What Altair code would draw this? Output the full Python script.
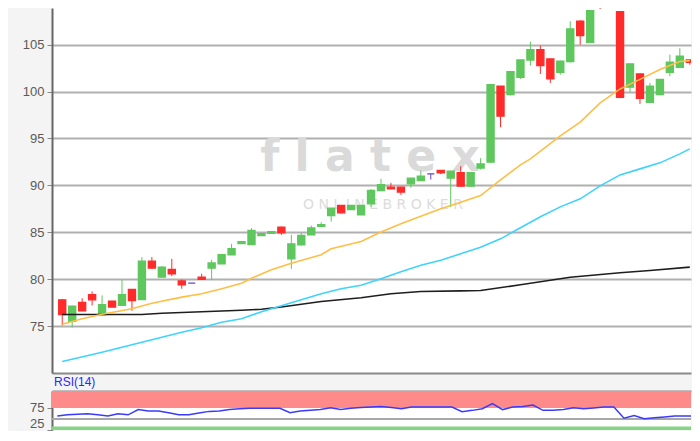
import altair as alt
import pandas as pd

# ---------------- data ----------------
idx = list(range(64))
opens = [77.8, 75.5, 77.52, 78.34, 76.21, 77.65, 77.22, 78.9, 77.84, 81.93,
         80.22, 81.04, 79.8, 79.58, 80.22, 81.18, 81.64, 82.6, 83.8, 83.7,
         84.65, 84.9, 85.55, 82.17, 83.67, 84.73, 85.65, 86.79, 87.85, 87.43,
         86.87, 88.03, 89.45, 89.81, 89.81, 90.16, 90.52, 91.23, 91.58, 90.77,
         91.34, 89.92, 91.84, 92.48, 100.57, 99.68, 101.53, 103.37, 104.47, 103.48,
         102.06, 103.19, 107.5, 105.26, 109.58, 110.4, 108.52, 100.47, 101.88, 98.87,
         99.68, 102.06, 102.6, 103.37]
closes = [76.24, 77.11, 76.63, 77.8, 77.27, 77.03, 78.34, 77.73, 81.93, 81.2,
          81.27, 80.58, 79.4, 79.58, 80.0, 81.72, 82.6, 83.24, 84.0, 85.19,
          84.85, 85.05, 84.94, 83.77, 84.66, 85.45, 85.8, 87.58, 87.07, 87.85,
          87.85, 89.45, 90.06, 89.63, 89.28, 90.77, 90.98, 91.23, 91.34, 91.52,
          89.92, 91.34, 92.29, 100.74, 97.38, 102.13, 103.37, 104.47, 102.77, 101.35,
          103.24, 106.68, 105.96, 108.63, 109.09, 109.34, 99.4, 102.95, 99.29, 100.57,
          101.28, 103.13, 103.77, 103.13]
highs = [77.9, 77.2, 77.97, 78.69, 78.27, 77.7, 79.94, 78.95, 82.36, 82.36,
         81.4, 82.17, 79.97, 79.58, 80.58, 82.07, 82.7, 83.77, 84.0, 85.45,
         84.85, 85.05, 85.6, 84.73, 84.94, 85.72, 86.08, 87.6, 87.9, 87.85,
         87.85, 89.6, 90.7, 90.27, 89.85, 90.8, 91.58, 91.23, 91.6, 91.55,
         92.05, 91.4, 92.9, 100.8, 100.6, 102.2, 103.4, 105.32, 104.9, 103.5,
         103.3, 107.5, 107.6, 108.7, 109.6, 110.8, 108.6, 103.0, 101.9, 100.92,
         101.3, 103.94, 104.62, 103.4]
lows = [75.07, 74.85, 76.6, 77.2, 76.2, 77.0, 77.2, 76.63, 77.8, 81.1,
        80.2, 80.33, 78.98, 79.58, 80.0, 79.9, 81.6, 82.6, 83.8, 83.7,
        84.65, 84.9, 84.73, 81.11, 83.6, 84.7, 85.65, 86.15, 87.0, 87.43,
        86.87, 87.7, 89.4, 89.6, 89.0, 89.75, 90.5, 90.62, 91.2, 87.68,
        89.9, 89.9, 91.69, 92.4, 96.2, 99.6, 101.35, 102.77, 101.88, 100.92,
        101.8, 103.1, 105.0, 105.2, 108.81, 109.3, 99.3, 99.93, 98.69, 98.8,
        99.6, 101.64, 102.5, 102.87]

orange_idx = [0, 2, 4, 7, 9, 12, 14, 16, 18, 19, 21, 23, 26, 27, 30, 32, 34, 36,
              38, 40, 42, 44, 46, 47, 50, 52, 54, 56, 58, 60, 62, 63]
orange_val = [75.2, 75.78, 76.26, 76.85, 77.43, 78.09, 78.45, 78.98, 79.56, 80.1,
              81.01, 81.7, 82.6, 83.24, 84.02, 85.02, 85.9, 86.72, 87.5, 88.21,
              88.92, 90.59, 92.19, 92.83, 95.28, 96.74, 98.79, 100.28, 101.3,
              102.36, 103.21, 103.3]
cyan_idx = [0, 4, 8, 12, 14, 16, 18, 20, 23, 26, 28, 30, 32, 34, 36, 38, 40, 42,
            44, 46, 48, 50, 52, 54, 56, 58, 60, 62, 63]
cyan_val = [71.23, 72.21, 73.28, 74.34, 74.82, 75.41, 75.78, 76.53, 77.49, 78.45,
            78.98, 79.35, 80.04, 80.79, 81.48, 82.02, 82.71, 83.4, 84.3, 85.48,
            86.65, 87.71, 88.57, 89.95, 91.12, 91.76, 92.4, 93.36, 93.89]
black_idx = [0, 8, 10, 14, 18, 20, 22, 26, 30, 33, 36, 40, 42, 46, 51, 56, 59, 63]
black_val = [76.24, 76.24, 76.37, 76.53, 76.69, 76.8, 77.03, 77.62, 78.02, 78.45,
             78.69, 78.76, 78.8, 79.4, 80.2, 80.68, 80.93, 81.29]

rsi = [56.6, 59.5, 60.7, 62.0, 59.5, 56.6, 62.0, 59.5, 71.4, 68.4,
       68.4, 64.3, 59.5, 59.5, 63.4, 67.3, 68.4, 71.4, 73.2, 74.5,
       74.5, 74.5, 74.5, 64.3, 67.9, 69.6, 71.4, 75.5, 71.4, 74.5,
       75.9, 77.3, 78.6, 75.9, 73.2, 77.3, 77.3, 77.3, 77.3, 77.3,
       66.6, 69.6, 73.2, 85.2, 71.4, 77.3, 78.6, 81.6, 69.6, 69.6,
       71.4, 75.5, 73.2, 75.0, 77.3, 77.3, 51.8, 57.7, 50.5, 52.7,
       54.5, 56.6, 56.6, 56.6]

price_ticks = [75, 80, 85, 90, 95, 100, 105]
rsi_ticks = [25, 75]
rsi_mid = [50]
rsi_over = [75, 120]
rsi_under = [0, 33]

wm_main = "f l a t e x"
wm_sub = "O N L I N E   B R O K E R"

# ---------------- styling ----------------
GREEN = "#5ec75e"
RED = "#ff2b2b"
PURPLE = "#6a40d0"
FONT = "Liberation Sans"
W = 639
BORDER = "#8a8a8a"

df = pd.DataFrame({"i": idx, "open": opens, "close": closes, "high": highs, "low": lows})
df["dir"] = ["up" if c > o else ("down" if c < o else "flat") for o, c in zip(opens, closes)]

xscale = alt.Scale(domain=[-0.524, 62.62], nice=False, zero=False)
ax_bottom = alt.Axis(orient="bottom", labels=False, ticks=False, grid=False, title=None,
                     domainColor=BORDER, domainWidth=2)
ax_top = alt.Axis(orient="top", labels=False, ticks=False, grid=False, title=None,
                  domainColor=BORDER, domainWidth=2)
X = alt.X("i:Q", scale=xscale, axis=ax_bottom)
XR = alt.X("i:Q", scale=xscale, axis=ax_top)
yscale = alt.Scale(domain=[70, 108.91], nice=False, zero=False)
yaxis = alt.Axis(values=price_ticks, title=None, grid=True, gridColor="#b0b0b0",
                 gridWidth=2, domainColor="#666666", domainWidth=2, tickColor="#888888",
                 tickSize=5, labelFont=FONT, labelFontSize=13, labelColor="#5a5a5a",
                 labelPadding=3, minExtent=44, maxExtent=44)

cscale = alt.Scale(domain=["up", "down", "flat"], range=[GREEN, RED, PURPLE])

base = alt.Chart(df)
wicks = base.mark_rule(strokeWidth=1, clip=True).encode(
    x=X, y=alt.Y("low:Q", scale=yscale, axis=yaxis), y2="high:Q",
    color=alt.Color("dir:N", scale=cscale, legend=None))
bodies = base.mark_bar(size=7, clip=True, strokeWidth=1.4).encode(
    x=X, y=alt.Y("open:Q", scale=yscale, axis=yaxis), y2="close:Q",
    color=alt.Color("dir:N", scale=cscale, legend=None),
    stroke=alt.Stroke("dir:N", scale=cscale, legend=None))

wm = pd.DataFrame({"i": [30.9, 32.2], "v": [91.55, 87.5], "t": [wm_main, wm_sub]})
wm1 = alt.Chart(wm[wm.t == wm_main]).mark_text(
    font="DejaVu Sans", fontWeight="bold", fontSize=44, color="#dadada",
    baseline="alphabetic", align="center").encode(
    x=X, y=alt.Y("v:Q", scale=yscale, axis=yaxis), text="t:N")
wm2 = alt.Chart(wm[wm.t == wm_sub]).mark_text(
    font="DejaVu Sans", fontSize=14, color="#dcdcdc",
    baseline="alphabetic", align="center").encode(
    x=X, y=alt.Y("v:Q", scale=yscale, axis=yaxis), text="t:N")


def ma_line(ix, vals, col, w=1.6):
    d = pd.DataFrame({"i": ix, "v": vals})
    return alt.Chart(d).mark_line(color=col, strokeWidth=w, clip=True).encode(
        x=X, y=alt.Y("v:Q", scale=yscale, axis=yaxis))


black = ma_line(black_idx, black_val, "#1e1e1e")
cyan = ma_line(cyan_idx, cyan_val, "#3dd3ff")
orange = ma_line(orange_idx, orange_val, "#ffbe45")

main = alt.layer(wm1, wm2, wicks, bodies, black, cyan, orange).properties(
    width=W, height=365)

# ---------------- RSI panel ----------------
rdf = pd.DataFrame({"i": idx, "rsi": rsi})
rscale = alt.Scale(domain=[25, 113.6], nice=False, zero=False)
raxis = alt.Axis(values=rsi_ticks, title=None, grid=False, domainColor="#666666",
                 domainWidth=2, tickColor="#888888", tickSize=5, labelFont=FONT,
                 labelFontSize=13, labelColor="#5a5a5a", labelPadding=3,
                 labelFlush=True, minExtent=44, maxExtent=44)

over = alt.Chart(pd.DataFrame({"lo": [rsi_over[0]], "hi": [rsi_over[1]]})).mark_rect(
    color="#ff8a8a", clip=True).encode(y=alt.Y("lo:Q", scale=rscale, axis=raxis), y2="hi:Q")
under = alt.Chart(pd.DataFrame({"lo": [rsi_under[0]], "hi": [rsi_under[1]]})).mark_rect(
    color="#86d486", clip=True).encode(y=alt.Y("lo:Q", scale=rscale, axis=raxis), y2="hi:Q")
mid = alt.Chart(pd.DataFrame({"v": rsi_mid})).mark_rule(
    color="#a8a8a8", strokeWidth=2).encode(y=alt.Y("v:Q", scale=rscale, axis=raxis))
rline = alt.Chart(rdf).mark_line(color="#3a3aff", strokeWidth=1.5, clip=True).encode(
    x=XR, y=alt.Y("rsi:Q", scale=rscale, axis=raxis))

rsi_chart = alt.layer(over, under, mid, rline).properties(
    width=W, height=39,
    title=alt.TitleParams("RSI(14)", anchor="start", frame="group", fontSize=12,
                          color="#2828ff", font=FONT, fontWeight="normal",
                          offset=2, dx=2))

chart = alt.vconcat(main, rsi_chart, spacing=18, bounds="flush").resolve_scale(
    y="independent", color="independent", stroke="independent").properties(
    padding={"left": 0, "top": 0, "right": 0, "bottom": 0},
    background="#f4f4f4").configure_view(
    fill="white", strokeWidth=0)

chart.save("out.html", embed_options={"renderer": "svg", "actions": False})
